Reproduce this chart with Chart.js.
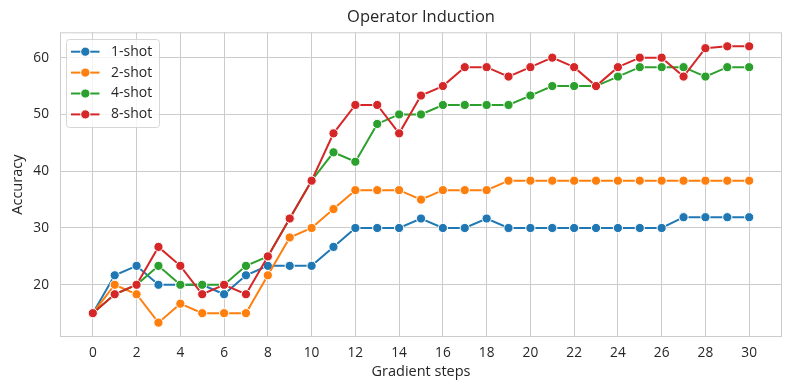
<!DOCTYPE html>
<html>
<head>
<meta charset="utf-8">
<title>Operator Induction</title>
<script src="https://cdn.jsdelivr.net/npm/chart.js@4/dist/chart.umd.min.js"></script>
<style>
    html, body { margin: 0; padding: 0; background: #ffffff; }
    #wrap { width: 793px; height: 391px; }
</style>
</head>
<body>
<div id="wrap"><canvas id="chart" width="793" height="391"></canvas></div>
<script>
// data
const steps = [0, 1, 2, 3, 4, 5, 6, 7, 8, 9, 10, 11, 12, 13, 14, 15, 16, 17, 18, 19, 20, 21, 22, 23, 24, 25, 26, 27, 28, 29, 30];

const shot1 = [15, 21.67, 23.33, 20, 20, 20, 18.33, 21.67, 23.33, 23.33, 23.33, 26.67, 30, 30, 30, 31.67,
    30, 30, 31.67, 30, 30, 30, 30, 30, 30, 30, 30, 31.9, 31.9, 31.9, 31.9];
const shot2 = [15, 20, 18.33, 13.33, 16.67, 15, 15, 15, 21.67, 28.33, 30, 33.33, 36.67, 36.67, 36.67, 35,
    36.67, 36.67, 36.67, 38.33, 38.33, 38.33, 38.33, 38.33, 38.33, 38.33, 38.33, 38.33, 38.33, 38.33, 38.33];
const shot4 = [15, 18.33, 20, 23.33, 20, 20, 20, 23.33, 25, 31.67, 38.33, 43.33, 41.67, 48.33, 50, 50,
    51.67, 51.67, 51.67, 51.67, 53.33, 55, 55, 55, 56.67, 58.33, 58.33, 58.33, 56.67, 58.33, 58.33];
const shot8 = [15, 18.33, 20, 26.67, 23.33, 18.33, 20, 18.33, 25, 31.67, 38.33, 46.67, 51.67, 51.67, 46.67, 53.33,
    55, 58.33, 58.33, 56.67, 58.33, 60, 58.33, 55, 58.33, 60, 60, 56.67, 61.67, 62, 62];

const seriesLabels = ["1-shot", "2-shot", "4-shot", "8-shot"];
const seriesColors = ["#1f77b4", "#ff7f0e", "#2ca02c", "#d62728"];

const xTicks = [0, 2, 4, 6, 8, 10, 12, 14, 16, 18, 20, 22, 24, 26, 28, 30];
const yTicks = [20, 30, 40, 50, 60];

const FONT = "'Open Sans', 'Noto Sans', sans-serif";
const GRID = "#cccccc";

function makeSet(label, values, color, order) {
    return {
        label: label,
        data: steps.map((s, i) => ({ x: s, y: values[i] })),
        borderColor: color,
        backgroundColor: color,
        borderWidth: 2,
        pointRadius: 4.6,
        pointHoverRadius: 4.6,
        pointBackgroundColor: color,
        pointBorderColor: "#ffffff",
        pointBorderWidth: 1,
        tension: 0,
        order: order
    };
}

// ===============================
// frame (top/right spines) + legend box
// ===============================
const framePlugin = {
    id: "frame",
    beforeDatasetsDraw(chart) {
        const { ctx, chartArea: a } = chart;
        ctx.save();
        ctx.strokeStyle = GRID;
        ctx.lineWidth = 1;
        ctx.strokeRect(a.left + 0.5, a.top + 0.5, a.right - a.left - 1, a.bottom - a.top - 1);
        ctx.restore();
    },
    afterDraw(chart) {
        const ctx = chart.ctx;
        const x = 66.5, y = 39.5, w = 93, h = 88, r = 3;
        ctx.save();
        ctx.beginPath();
        ctx.roundRect(x, y, w, h, r);
        ctx.fillStyle = "rgba(255,255,255,0.8)";
        ctx.fill();
        ctx.strokeStyle = "#d6d6d6";
        ctx.lineWidth = 1;
        ctx.stroke();

        ctx.font = "14px " + FONT;
        ctx.textBaseline = "middle";
        ctx.fillStyle = "#262626";
        chart.data.datasets.forEach((ds, i) => {
            const cy = 51.7 + i * 20.9;
            ctx.strokeStyle = ds.borderColor;
            ctx.lineWidth = 2;
            ctx.beginPath();
            ctx.moveTo(71, cy);
            ctx.lineTo(99.5, cy);
            ctx.stroke();
            ctx.beginPath();
            ctx.arc(85.3, cy, 4.6, 0, Math.PI * 2);
            ctx.fillStyle = ds.borderColor;
            ctx.fill();
            ctx.strokeStyle = "#ffffff";
            ctx.lineWidth = 1;
            ctx.stroke();
            ctx.fillStyle = "#262626";
            ctx.fillText(ds.label, 111, cy);
        });
        ctx.restore();
    }
};

document.addEventListener("DOMContentLoaded", function () {

    const datasets = [
        makeSet(seriesLabels[0], shot1, seriesColors[0], 3),
        makeSet(seriesLabels[1], shot2, seriesColors[1], 2),
        makeSet(seriesLabels[2], shot4, seriesColors[2], 1),
        makeSet(seriesLabels[3], shot8, seriesColors[3], 0)
    ];

    new Chart(document.getElementById("chart").getContext("2d"), {
        type: "line",
        data: { datasets: datasets },
        plugins: [framePlugin],
        options: {
            responsive: false,
            animation: false,
            devicePixelRatio: 1,
            layout: { padding: { left: 0, right: 11, top: 0, bottom: 0 } },
            plugins: {
                legend: { display: false },
                tooltip: { enabled: false },
                title: {
                    display: true,
                    text: "Operator Induction",
                    fullSize: false,
                    color: "#262626",
                    font: { family: FONT, size: 16.5, weight: "normal" },
                    padding: { top: 7.6, bottom: 4.9 }
                }
            },
            scales: {
                x: {
                    type: "linear",
                    min: -1.5,
                    max: 31.5,
                    afterBuildTicks: s => { s.ticks = xTicks.map(v => ({ value: v })); },
                    afterFit: s => { s.height = 54; },
                    grid: { color: GRID, lineWidth: 1, drawTicks: false },
                    border: { display: false },
                    ticks: {
                        padding: 8,
                        color: "#262626",
                        font: { family: FONT, size: 13.7 },
                        maxRotation: 0
                    },
                    title: {
                        display: true,
                        text: "Gradient steps",
                        color: "#262626",
                        font: { family: FONT, size: 14.5 },
                        padding: { top: 0, bottom: 10 }
                    }
                },
                y: {
                    type: "linear",
                    min: 10.8,
                    max: 64.47,
                    afterBuildTicks: s => { s.ticks = yTicks.map(v => ({ value: v })); },
                    afterFit: s => { s.width = 60; },
                    grid: { color: GRID, lineWidth: 1, drawTicks: false },
                    border: { display: false },
                    ticks: {
                        padding: 11,
                        color: "#262626",
                        font: { family: FONT, size: 13.7 }
                    },
                    title: {
                        display: true,
                        text: "Accuracy",
                        color: "#262626",
                        font: { family: FONT, size: 14.5 },
                        padding: { top: 9.5, bottom: 0 }
                    }
                }
            }
        }
    });
});
</script>
</body>
</html>
